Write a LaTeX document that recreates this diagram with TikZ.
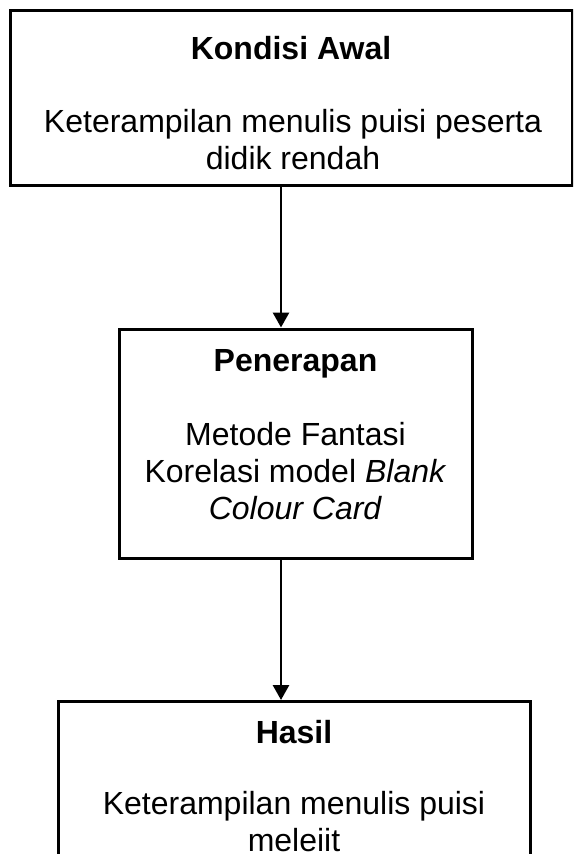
\documentclass[tikz,border=0pt]{standalone}
\usepackage{fontspec}
\setmainfont{Liberation Sans}
\usetikzlibrary{arrows.meta}
\begin{document}
\begin{tikzpicture}[x=1pt,y=-1pt,
  boxstyle/.style={draw=black,line width=3pt,rectangle,inner sep=0pt,fill=white},
  titlestyle/.style={inner sep=0pt,anchor=base,font=\fontsize{32}{37}\selectfont\bfseries},
  bodystyle/.style={inner sep=0pt,anchor=base,align=center,font=\fontsize{32}{37}\selectfont},
  arr/.style={line width=2.8pt,-{Triangle[width=16pt,length=15pt]}}]
\clip (0,0) rectangle (573,854);
\fill[white] (0,0) rectangle (573,854);
% boxes
\node[boxstyle,minimum width=562pt,minimum height=174.5pt] (box1) at (291,97.75) {};
\node[boxstyle,minimum width=353pt,minimum height=229pt] (box2) at (295.5,443.5) {};
\node[boxstyle,minimum width=472pt,minimum height=200pt] (box3) at (294,801.5) {};
% texts (base anchor = baseline of the last line)
\node[titlestyle] (t1) at (291,59.6) {Kondisi Awal};
\node[bodystyle] (b1) at (293,169.6) {Keterampilan menulis puisi peserta\\didik rendah};
\node[titlestyle] (t2) at (295.5,371.7) {Penerapan};
\node[bodystyle] (b2) at (295.5,519.7) {Metode Fantasi\\Korelasi model \textit{Blank}\\\textit{Colour Card}};
\node[titlestyle] (t3) at (294,743) {Hasil};
\node[bodystyle] (b3) at (294,851.5) {Keterampilan menulis puisi\\meleiit};
% connectors
\coordinate (ax) at (281,0);
\draw[arr] (box1.south -| ax) -- (box2.north -| ax);
\draw[arr] (box2.south -| ax) -- (box3.north -| ax);
\end{tikzpicture}
\end{document}
